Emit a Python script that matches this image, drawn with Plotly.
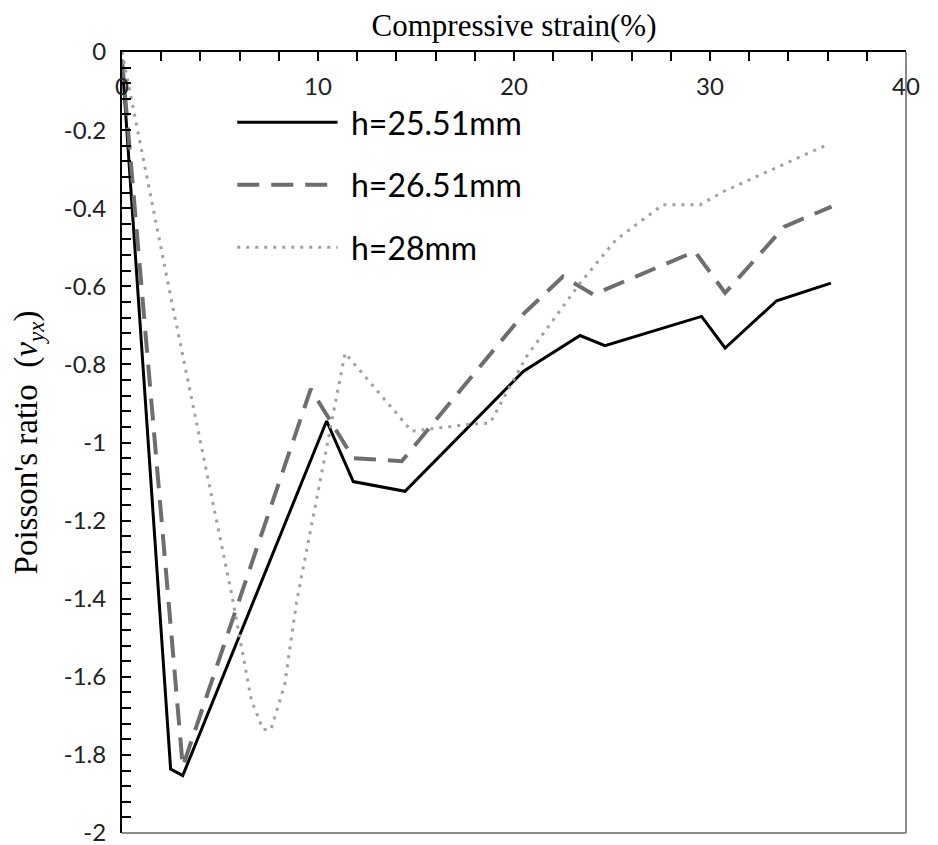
import plotly.graph_objects as go

# compressive strain (%) and Poisson's ratio
strain_2551 = [0, 2.48, 3.1, 10.44, 11.8, 14.44, 20.47, 23.37, 24.64, 29.57, 30.77, 33.4, 36.17]
ratio_2551 = [-0.02, -1.836, -1.853, -0.945, -1.10, -1.125, -0.818, -0.726, -0.752, -0.677, -0.758, -0.637, -0.592]

strain_2651 = [0, 3.1, 9.63, 11.8, 14.27, 20.5, 22.5, 24.05, 29.23, 30.77, 33.8, 36.2]
ratio_2651 = [-0.02, -1.83, -0.863, -1.04, -1.048, -0.67, -0.575, -0.621, -0.511, -0.617, -0.447, -0.396]

strain_28 = [0, 2.5, 5.6, 6.6, 7.2, 7.6, 8.3, 8.9, 11.38, 14.78, 17.6, 18.78, 19.8, 20.65,
             23.37, 25.2, 27.6, 29.5, 30.7, 35.95]
ratio_28 = [0, -0.63, -1.39, -1.66, -1.735, -1.735, -1.62, -1.41, -0.771, -0.971, -0.954, -0.95,
            -0.856, -0.779, -0.592, -0.481, -0.391, -0.391, -0.357, -0.238]

series_names = ["h=25.51mm", "h=26.51mm", "h=28mm"]

x_ticks = [0, 10, 20, 30, 40]
y_ticks = [0, -0.2, -0.4, -0.6, -0.8, -1, -1.2, -1.4, -1.6, -1.8, -2]
y_labels = ["0", "-0.2", "-0.4", "-0.6", "-0.8", "-1", "-1.2", "-1.4", "-1.6", "-1.8", "-2"]

styles = [dict(color="black", width=3),
          dict(color="#6e6e6e", width=4, dash="22px,12px"),
          dict(color="#a0a0a0", width=3, dash="3px,6px")]

fig = go.Figure()
for xs, ys, name, st in zip([strain_2551, strain_2651, strain_28],
                            [ratio_2551, ratio_2651, ratio_28], series_names, styles):
    fig.add_trace(go.Scatter(x=xs, y=ys, mode="lines", name=name, line=st, showlegend=False))

# legend drawn by hand so the sample lines are long like in the original
leg_y = [0.910, 0.830, 0.750]
for name, st, yy in zip(series_names, styles, leg_y):
    fig.add_shape(type="line", xref="paper", yref="paper", x0=0.147, x1=0.275, y0=yy, y1=yy,
                  line=st)
    fig.add_annotation(xref="paper", yref="paper", x=0.289, y=yy, text=name, showarrow=False,
                       xanchor="left", yanchor="middle", font=dict(family="Lato", size=32, color="black"))

fig.update_layout(
    width=922, height=837,
    margin=dict(l=114, r=24, t=44, b=12),
    plot_bgcolor="white", paper_bgcolor="white",
    font=dict(family="Lato", color="black"),
    showlegend=False,
    xaxis=dict(
        side="top", range=[0, 40], tickvals=x_ticks,
        ticks="inside", ticklen=9, tickcolor="black", tickwidth=1.5,
        minor=dict(dtick=2, ticks="inside", ticklen=9, tickcolor="black"),
        ticklabelposition="inside", ticklabelstandoff=19, ticklabeloverflow="allow",
        tickfont=dict(family="Lato", size=24, color="#222"),
        showline=True, linecolor="black", linewidth=2,
        showgrid=False, zeroline=False, automargin=False,
        title=dict(text="Compressive strain(%)", standoff=30,
                   font=dict(family="Liberation Serif", size=31)),
    ),
    yaxis=dict(
        range=[-2, 0], tickvals=y_ticks, ticktext=y_labels,
        ticks="inside", ticklen=9, tickcolor="black", tickwidth=1.5,
        minor=dict(dtick=0.04, ticks="inside", ticklen=9, tickcolor="black"),
        ticklabelstandoff=9, ticklabeloverflow="allow",
        tickfont=dict(family="Lato", size=24, color="#222"),
        showline=True, linecolor="black", linewidth=2,
        showgrid=False, zeroline=False, automargin=False,
        title=dict(text="Poisson's ratio  (<i>ν</i><sub><i>yx</i></sub>)", standoff=24,
                   font=dict(family="Liberation Serif", size=33)),
    ),
)

# right and bottom frame lines are lighter than the axes
fig.add_shape(type="line", xref="paper", yref="paper", x0=1, x1=1, y0=0, y1=1,
              line=dict(color="#8a8a8a", width=2))
fig.add_shape(type="line", xref="paper", yref="paper", x0=0, x1=1, y0=0, y1=0,
              line=dict(color="#8a8a8a", width=2))

fig.write_html("out.html")
